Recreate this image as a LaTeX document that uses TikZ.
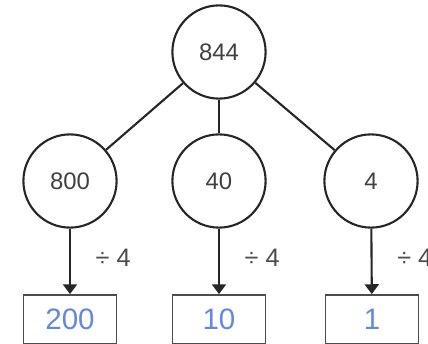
\documentclass[tikz,border=0pt]{standalone}
\usepackage{fontspec}
\setmainfont{Liberation Sans}
\usetikzlibrary{arrows.meta}
\definecolor{handblue}{RGB}{100,135,225}
\tikzstyle{part}=[circle,draw=black!85,line width=1.5pt,minimum size=2.33cm,inner sep=0pt,text=black!75,font=\fontsize{17}{20}\selectfont]
\tikzstyle{answer}=[rectangle,draw=black!70,line width=1pt,minimum width=2.33cm,minimum height=1.22cm,inner sep=0pt,text=handblue,font=\fontsize{21}{24}\selectfont]
\tikzstyle{split}=[line width=1.5pt,black!85]
\tikzstyle{divide}=[-{Triangle[width=10pt,length=7pt]},line width=1.5pt,black!85]
\tikzstyle{rule}=[anchor=west,xshift=0.5cm,yshift=0.08cm,text=black!70,font=\fontsize{18}{20}\selectfont]

\begin{document}
\begin{tikzpicture}
\useasboundingbox (0,0) rectangle (10.7,8.6);
\node[part] at (5.475, 7.3) (w) {844};
\node[part] at (1.75, 4.075) (h) {800};
\node[part] at (5.475, 4.075) (t) {40};
\node[part] at (9.275, 4.075) (o) {4};
\node[answer] at (1.75, 0.62) (h4) {200};
\node[answer] at (5.475, 0.62) (t4) {10};
\node[answer] at (9.3, 0.62) (o4) {1};
\draw[split] (w) -- (h);
\draw[split] (w) -- (t);
\draw[split] (w) -- (o);
\draw[divide] (h) -- node[rule] {÷ 4} (h4);
\draw[divide] (t) -- node[rule] {÷ 4} (t4);
\draw[divide] (o) -- node[rule] {÷ 4} (o4);
\end{tikzpicture}
\end{document}
